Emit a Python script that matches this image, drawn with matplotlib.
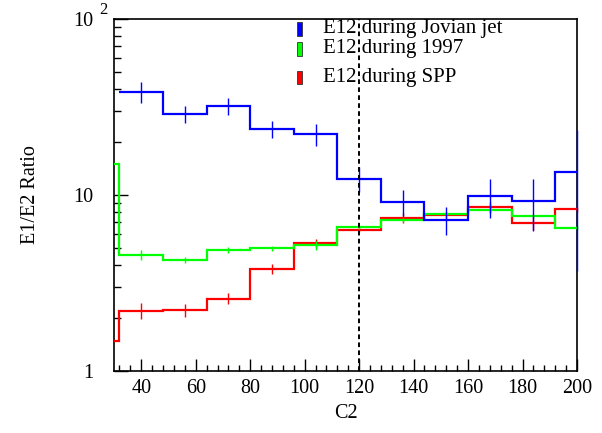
import numpy as np
import matplotlib
matplotlib.use("Agg")
import matplotlib.pyplot as plt
from matplotlib.patches import Rectangle
from matplotlib.ticker import FixedLocator, FixedFormatter, AutoMinorLocator, LogLocator, NullFormatter

plt.rcParams["font.family"] = ["Liberation Serif", "DejaVu Serif"]

# bin edges (width 16)
edges_all = [16, 32, 48, 64, 80, 96, 112, 128, 144, 160, 176, 192, 208]
edges_jet = edges_all[1:]

# E12 during Jovian jet (no entry in first bin)
jet = [38.6, 28.9, 32.0, 23.7, 22.1, 12.4, 9.16, 7.21, 9.87, 9.28, 13.5]
jet_err = [5.3, 3.2, 3.7, 2.7, 3.2, 2.0, 1.55, 1.3, 2.45, 3.05, 9.8]

# E12 during 1997
y1997 = [15.0, 4.56, 4.27, 4.87, 4.98, 5.20, 6.59, 7.20, 7.80, 8.22, 7.57, 6.52]
y1997_err = [0.5, 0.28, 0.17, 0.2, 0.15, 0.3, 0.2, 0.2, 0.15, 0.2, 0.2, 0.2]

# E12 during SPP
spp = [1.49, 2.20, 2.22, 2.58, 3.80, 5.35, 6.36, 7.43, 7.66, 8.51, 6.90, 8.30]
spp_err = [0.1, 0.22, 0.18, 0.18, 0.24, 0.3, 0.2, 0.5, 0.3, 0.6, 0.6, 0.3]

labels = ["E12 during Jovian jet", "E12 during 1997", "E12 during SPP"]
colors = ["#0000ff", "#00ff00", "#ff0000"]

XMIN, XMAX = 30, 200


def centers(e):
    e = np.asarray(e, dtype=float)
    return (e[:-1] + e[1:]) / 2


def main():
    fig = plt.figure(figsize=(6.02, 4.33), dpi=100)
    ax = fig.add_axes([0.1894, 0.1432, 0.7691, 0.8129])

    series = [
        (edges_all, spp, spp_err, colors[2]),
        (edges_all, y1997, y1997_err, colors[1]),
        (edges_jet, jet, jet_err, colors[0]),
    ]
    for e, v, err, c in series:
        ax.stairs(v, e, baseline=None, color=c, lw=1.6, zorder=3)
        xc = centers(e)
        keep = (xc >= XMIN) & (xc <= XMAX)
        eb = ax.errorbar(xc[keep], np.asarray(v)[keep], yerr=np.asarray(err)[keep],
                         fmt="none", ecolor=c, elinewidth=1.0, capsize=0, zorder=3)
        for art in eb.lines[2]:
            art.set_clip_on(False)

    ax.axvline(120, color="black", ls=(0, (2.4, 1.7)), lw=1.4, zorder=4)

    ax.set_yscale("log")
    ax.set_xlim(XMIN, XMAX)
    ax.set_ylim(1, 100)

    ax.xaxis.set_major_locator(FixedLocator([40, 60, 80, 100, 120, 140, 160, 180, 200]))
    ax.xaxis.set_minor_locator(AutoMinorLocator(5))
    ax.yaxis.set_major_locator(FixedLocator([1, 10, 100]))
    ax.yaxis.set_major_formatter(FixedFormatter(["1", "10", "10"]))
    ax.yaxis.set_minor_locator(LogLocator(base=10, subs=np.arange(2, 10)))
    ax.yaxis.set_minor_formatter(NullFormatter())

    ax.tick_params(which="both", direction="in", top=False, right=False,
                   labelsize=14.5, color="black", width=1.0)
    ax.tick_params(axis="x", which="major", length=9, pad=6)
    ax.tick_params(axis="x", which="minor", length=4.5)
    ax.tick_params(axis="y", which="major", length=10, pad=15)
    ax.tick_params(axis="y", which="minor", length=5)
    for s in ax.spines.values():
        s.set_linewidth(1.2)

    # exponent of the top y label
    fig.text(99 / 602, 1 - 10 / 433, "2", fontsize=12, ha="left", va="center")

    ax.set_xlabel("C2", fontsize=14.5, labelpad=4)
    ax.set_ylabel("E1/E2 Ratio", fontsize=14.5, labelpad=24)

    # legend, drawn by hand (no frame)
    rows = [29.0, 49.0, 77.5]
    for r, lab, c in zip(rows, labels, colors):
        fig.patches.append(Rectangle((297 / 602, 1 - (r + 6.5) / 433), 5 / 602, 13 / 433,
                                     transform=fig.transFigure, facecolor=c,
                                     edgecolor="#333333", lw=0.6))
        fig.text(322.7 / 602, 1 - r / 433, lab, fontsize=15, ha="left", va="center")

    fig.savefig("out.png", dpi=100)


if __name__ == "__main__":
    main()
